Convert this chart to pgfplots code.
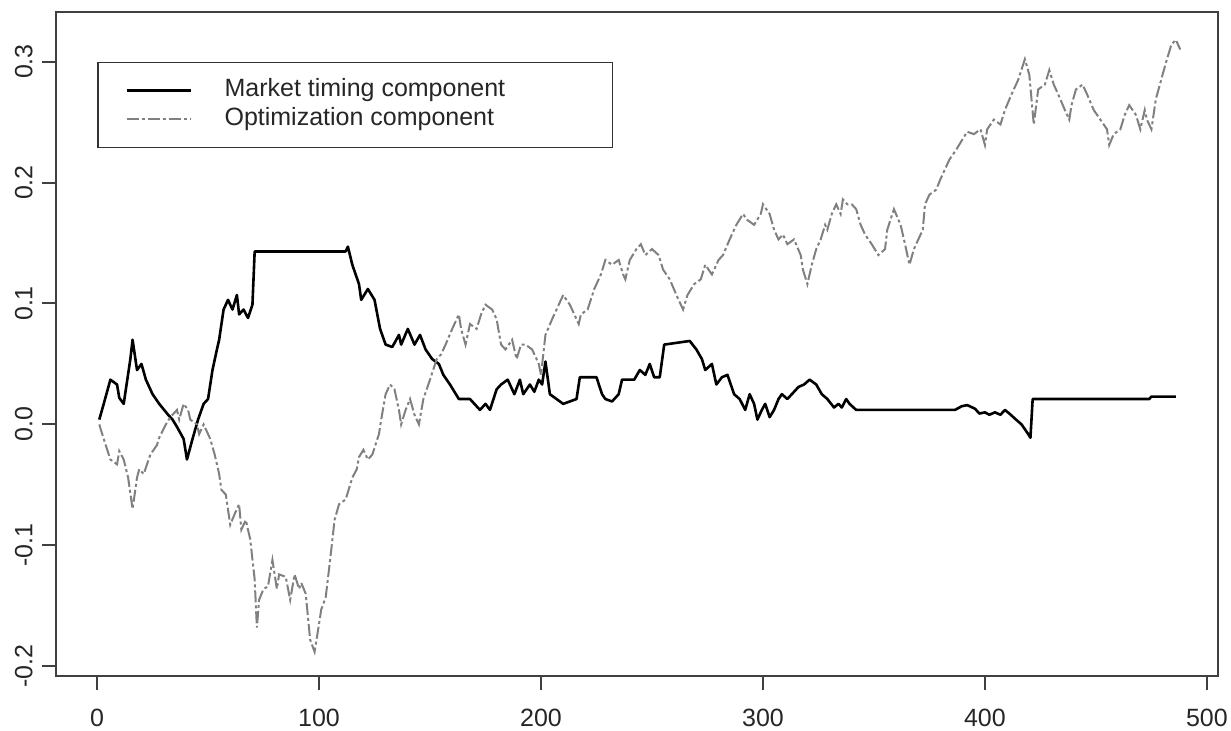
\documentclass[border=0pt]{standalone}
\usepackage{pgfplots}
\pgfplotsset{compat=1.18}
\usepackage{fontspec}
\setmainfont{Liberation Sans}
\begin{document}
\begin{tikzpicture}
\begin{axis}[
  scale only axis, width=581pt, height=332pt,
  xmin=-18.5, xmax=505, ymin=-0.208, ymax=0.341,
  axis line style={draw=black!75, line width=1pt},
  tick align=outside, xtick pos=lower, ytick pos=left,
  major tick length=7pt,
  major tick style={draw=black!75, line width=1pt},
  xtick={0,100,200,300,400,500},
  xticklabels={0,100,200,300,400,500},
  ytick={-0.2,-0.1,0,0.1,0.2,0.3},
  yticklabels={-0.2,-0.1,0.0,0.1,0.2,0.3},
  ticklabel style={font=\fontsize{12.5}{14}\selectfont, text=black!85},
  xticklabel style={anchor=north, inner sep=0pt},
  yticklabel style={rotate=90, anchor=south, inner sep=0pt},
  xticklabel shift=9.5pt, yticklabel shift=4.5pt,
  legend cell align=left,
  legend style={at={(axis cs:0,0.3)}, anchor=north west, draw=black!80, line width=0.9pt, fill=white,
    inner xsep=14pt, inner ysep=7pt, row sep=0.5pt, column sep=15pt,
    font=\fontsize{12.5}{14}\selectfont, text=black!85,
    nodes={inner sep=1pt, text height=9pt, text depth=3pt}},
  legend image code/.code={\draw[#1] (0pt,0pt) -- (32pt,0pt);},
]
\addplot[black, line width=1.3pt, line join=round] coordinates {
(1,0.004)(3,0.017)(6,0.037)(9,0.033)(10,0.022)(12,0.017)(15,0.054)(16,0.070)(18,0.045)(20,0.050)(22,0.037)(25,0.025)(28,0.017)(32,0.008)(34,0.004)(36,-0.002)(39,-0.012)(40.5,-0.029)(43,-0.012)(45.5,0.004)(48,0.017)(50,0.021)(52,0.045)(54,0.062)(55,0.070)(57,0.095)(59,0.103)(61,0.095)(63,0.107)(64,0.091)(66,0.095)(68,0.088)(70,0.099)(71,0.143)(112,0.143)(113,0.147)(115,0.132)(118,0.116)(119,0.103)(122,0.112)(125,0.103)(127.5,0.079)(130,0.066)(133,0.064)(136,0.074)(137,0.066)(140,0.079)(143,0.066)(145.5,0.074)(148,0.062)(151,0.054)(154,0.050)(156,0.041)(159,0.033)(163,0.021)(168,0.021)(170,0.017)(172.5,0.012)(175,0.017)(177,0.012)(180,0.029)(182,0.033)(185,0.037)(188,0.025)(190.5,0.037)(192,0.025)(195,0.033)(197,0.027)(199,0.037)(200.5,0.033)(202,0.052)(204,0.025)(207,0.021)(210,0.017)(213,0.019)(216,0.021)(217.5,0.039)(225,0.039)(227.5,0.025)(229,0.021)(232,0.019)(235,0.025)(236.5,0.037)(242,0.037)(244.5,0.045)(247,0.041)(249,0.050)(251,0.039)(253.5,0.039)(255.5,0.066)(267,0.069)(270,0.062)(272.5,0.054)(274,0.045)(277,0.050)(279,0.033)(281.5,0.039)(284,0.041)(287,0.025)(289.5,0.021)(292,0.012)(294,0.025)(296,0.017)(297.5,0.004)(299.5,0.012)(301,0.017)(303,0.006)(305,0.012)(307,0.021)(308.5,0.025)(311,0.021)(313,0.025)(316,0.031)(318.5,0.033)(321,0.037)(324,0.033)(326.5,0.025)(329,0.021)(332,0.014)(334,0.017)(335.5,0.014)(337.5,0.021)(339,0.017)(342,0.012)(386.5,0.012)(389.5,0.015)(392,0.016)(395.5,0.013)(397.5,0.009)(400,0.010)(402,0.008)(404.5,0.010)(407,0.008)(409,0.012)(411,0.009)(414,0.004)(416.5,0.0)(419.5,-0.008)(420.5,-0.011)(421.5,0.021)(474,0.021)(475,0.023)(486,0.023)
};
\addlegendentry{\makebox[179pt][l]{Market timing component}}
\addplot[black!50, line width=1pt, dash pattern=on 6pt off 1.5pt on 1.5pt off 1.5pt] coordinates {
(1,0.000)(3,-0.012)(6,-0.029)(9,-0.033)(10,-0.022)(12,-0.029)(14,-0.044)(16,-0.070)(18,-0.044)(19,-0.037)(21,-0.041)(24,-0.025)(27,-0.017)(28,-0.011)(31,0.000)(33,0.006)(36,0.012)(37,0.004)(39,0.017)(41,0.012)(42,0.004)(45,0.000)(46,-0.008)(48,0.000)(51,-0.012)(53,-0.025)(55,-0.041)(56,-0.054)(58,-0.058)(60,-0.083)(62,-0.074)(64,-0.066)(65,-0.087)(67,-0.079)(69,-0.095)(71,-0.128)(72,-0.168)(73,-0.145)(75,-0.136)(77,-0.134)(79,-0.112)(81,-0.136)(82,-0.124)(85,-0.126)(87,-0.145)(89,-0.124)(91,-0.136)(92,-0.131)(94,-0.140)(96,-0.178)(98,-0.188)(100,-0.165)(101,-0.153)(103,-0.143)(105,-0.112)(107,-0.079)(109,-0.066)(112,-0.062)(115,-0.044)(117,-0.037)(118,-0.027)(120,-0.021)(122,-0.029)(124,-0.025)(127,-0.008)(128,0.004)(130,0.025)(132,0.033)(134,0.029)(136,0.012)(137,0.000)(139,0.012)(141,0.021)(143,0.008)(145,0.000)(147,0.021)(150,0.037)(153,0.054)(155,0.058)(157,0.066)(160,0.079)(163,0.091)(164,0.079)(166,0.066)(168,0.083)(171,0.079)(173,0.091)(175,0.099)(178,0.095)(180,0.087)(182,0.066)(184,0.062)(187,0.070)(189,0.054)(191,0.066)(193,0.066)(196,0.062)(199,0.050)(200,0.041)(202,0.074)(205,0.087)(208,0.099)(210,0.107)(213,0.099)(215,0.091)(217,0.083)(218,0.091)(221,0.095)(224,0.112)(227,0.124)(229,0.136)(232,0.132)(235,0.136)(237,0.124)(238,0.120)(240,0.136)(243,0.145)(245,0.149)(247,0.140)(250,0.145)(253,0.140)(255,0.128)(258,0.120)(261,0.107)(264,0.095)(266,0.107)(269,0.116)(272,0.120)(274,0.132)(277,0.124)(280,0.136)(282,0.140)(285,0.153)(288,0.165)(291,0.174)(293,0.169)(296,0.165)(299,0.174)(300,0.182)(303,0.174)(305,0.161)(307,0.153)(309,0.157)(311,0.149)(314,0.153)(317,0.140)(318,0.128)(320,0.116)(322,0.132)(324,0.145)(326,0.153)(328,0.165)(329,0.161)(331,0.174)(333,0.182)(335,0.174)(336,0.186)(338,0.182)(340,0.182)(342,0.178)(344,0.165)(346,0.157)(349,0.149)(352,0.140)(355,0.145)(356,0.161)(359,0.178)(362,0.165)(364,0.149)(366,0.132)(368,0.145)(370,0.153)(372,0.161)(373,0.182)(375,0.190)(378,0.194)(380,0.203)(382,0.211)(384,0.219)(387,0.227)(390,0.236)(392,0.242)(395,0.240)(398,0.244)(400,0.231)(401,0.244)(404,0.252)(407,0.248)(409,0.260)(412,0.273)(415,0.285)(418,0.302)(420,0.289)(422,0.248)(424,0.277)(427,0.281)(429,0.293)(431,0.281)(433,0.273)(436,0.260)(438,0.252)(439,0.264)(441,0.277)(444,0.281)(446,0.273)(449,0.260)(452,0.252)(455,0.244)(456,0.231)(458,0.240)(461,0.244)(463,0.256)(465,0.264)(468,0.256)(470,0.244)(472,0.260)(473,0.252)(475,0.244)(477,0.269)(480,0.289)(482,0.302)(484,0.314)(486,0.318)(488,0.310)
};
\addlegendentry{\makebox[179pt][l]{Optimization component}}
\coordinate (sw) at (rel axis cs:0,0);
\coordinate (ne) at (rel axis cs:1,1);
\end{axis}
\pgfresetboundingbox
\useasboundingbox ([shift={(-28pt,-27pt)}]sw) rectangle ([shift={(6.5pt,6pt)}]ne);
\end{tikzpicture}
\end{document}
